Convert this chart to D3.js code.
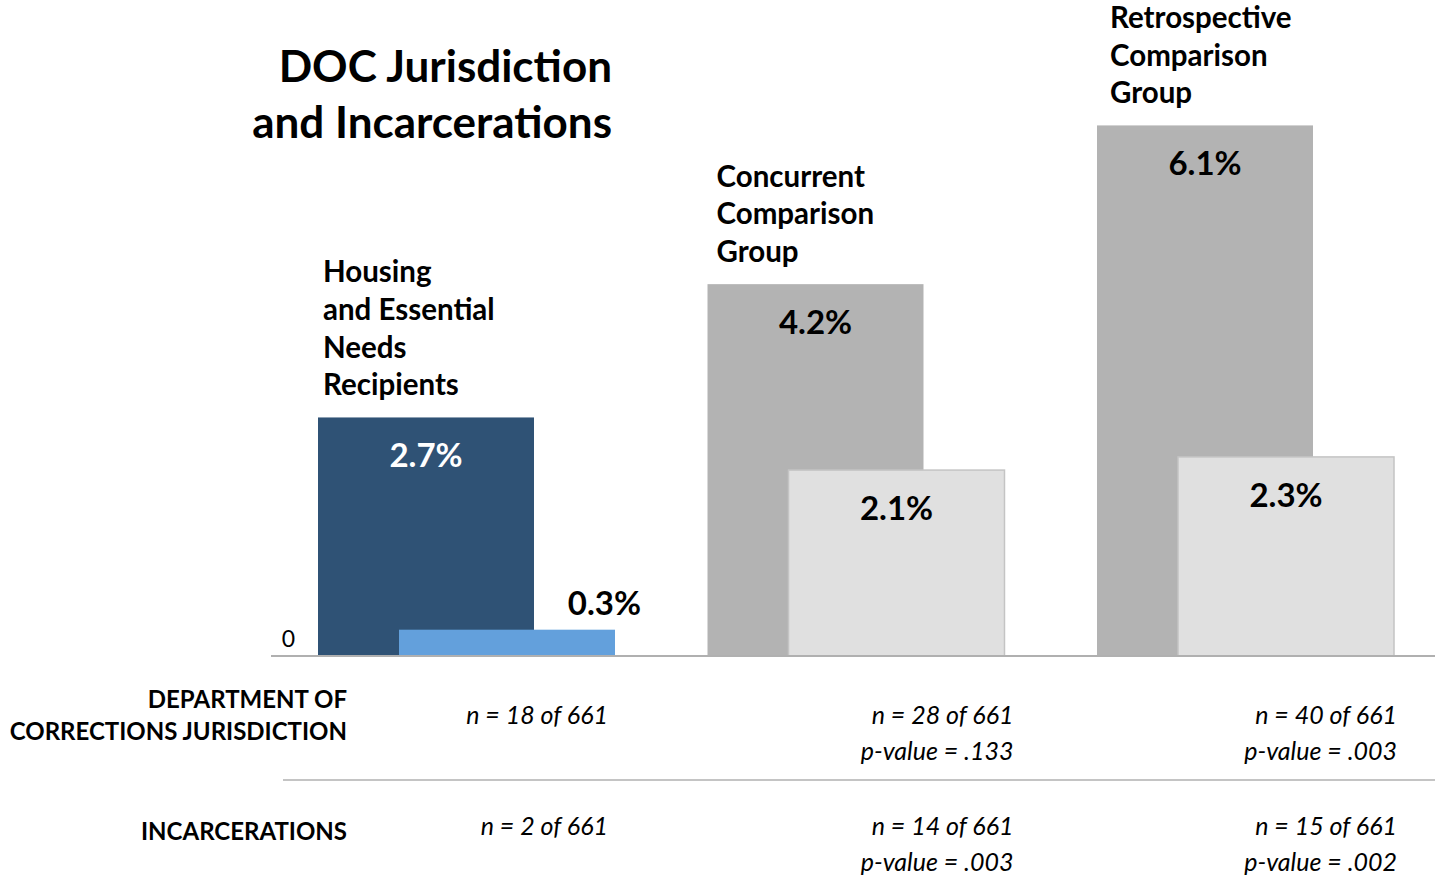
<!DOCTYPE html>
<html>
<head>
<meta charset="utf-8">
<script src="https://cdn.jsdelivr.net/npm/d3@7"></script>
<style>
  body { margin: 0; background: #fff; }
  svg { display: block; font-family: Lato, "Open Sans", sans-serif; }
</style>
</head>
<body>
<div id="chart"></div>
<script>
// groups along the x axis
const groups = ["Housing and Essential Needs Recipients", "Concurrent Comparison Group", "Retrospective Comparison Group"];
const groupLabelLines = [
  ["Housing", "and Essential", "Needs", "Recipients"],
  ["Concurrent", "Comparison", "Group"],
  ["Retrospective", "Comparison", "Group"]
];
// percent values
const docJurisdiction = [2.72, 4.24, 6.05];
const incarcerations = [0.30, 2.12, 2.27];
const valueLabels = [["2.7%", "4.2%", "6.1%"], ["0.3%", "2.1%", "2.3%"]];
// table below the chart
const rowLabels = [["DEPARTMENT OF", "CORRECTIONS JURISDICTION"], ["INCARCERATIONS"]];
const docCounts = [["n = 18 of 661"], ["n = 28 of 661", "p-value = .133"], ["n = 40 of 661", "p-value = .003"]];
const incCounts = [["n = 2 of 661"], ["n = 14 of 661", "p-value = .003"], ["n = 15 of 661", "p-value = .002"]];
const yTicks = [0];

const width = 1435, height = 877;
const baseline = 656;

const svg = d3.select("#chart").append("svg")
  .attr("width", width)
  .attr("height", height);

const x = d3.scaleBand()
  .domain(groups)
  .range([318, 1394])
  .paddingInner(0.2375)
  .paddingOuter(0);

const barW = x.bandwidth() * 216 / 297;
const shift = x.bandwidth() - barW;

const y = d3.scaleLinear()
  .domain([0, 7])
  .range([baseline, baseline - 7 * 87.7]);

const fills = [
  ["#2f5275", "#b3b3b3", "#b3b3b3"],
  ["#63a0dc", "#e0e0e0", "#e0e0e0"]
];

const series = [docJurisdiction, incarcerations];

// title
const title = svg.append("text")
  .attr("text-anchor", "end")
  .attr("font-weight", 700)
  .attr("font-size", 44)
  .attr("fill", "#000");
title.append("tspan").attr("x", 612).attr("y", 82).text("DOC Jurisdiction");
title.append("tspan").attr("x", 612).attr("y", 138).text("and Incarcerations");

// bars
series.forEach((vals, s) => {
  svg.append("g")
    .selectAll("rect")
    .data(vals)
    .join("rect")
    .attr("x", (d, i) => x(groups[i]) + s * shift)
    .attr("y", d => y(d))
    .attr("width", barW)
    .attr("height", d => y(0) - y(d))
    .attr("fill", (d, i) => fills[s][i])
    .attr("stroke", (d, i) => (s === 1 && i > 0) ? "#c4c4c4" : "none")
    .attr("stroke-width", 1.5);
});

// value labels
series.forEach((vals, s) => {
  svg.append("g")
    .selectAll("text")
    .data(vals)
    .join("text")
    .attr("text-anchor", (d, i) => (s === 1 && i === 0) ? "end" : "middle")
    .attr("x", (d, i) => (s === 1 && i === 0)
      ? x(groups[i]) + shift + barW + 26
      : x(groups[i]) + s * shift + barW / 2)
    .attr("y", (d, i) => (s === 1 && i === 0) ? y(d) - 15 : y(d) + 50)
    .attr("font-weight", 700)
    .attr("font-size", 33)
    .attr("fill", (d, i) => (s === 0 && i === 0) ? "#fff" : "#000")
    .text((d, i) => valueLabels[s][i]);
});

// group labels above the tall bars
groups.forEach((g, i) => {
  const lines = groupLabelLines[i];
  const top = y(docJurisdiction[i]) - 22 - (lines.length - 1) * 37.7;
  const t = svg.append("text")
    .attr("font-weight", 700)
    .attr("font-size", 29.5)
    .attr("fill", "#000");
  lines.forEach((ln, k) => {
    t.append("tspan")
      .attr("x", x(g) + 5 + i * 4)
      .attr("y", top + k * 37.7)
      .text(ln);
  });
});

// baseline + zero tick
svg.append("line")
  .attr("x1", 271).attr("x2", width)
  .attr("y1", y(0)).attr("y2", y(0))
  .attr("stroke", "#b0b0b0")
  .attr("stroke-width", 2);

svg.append("g")
  .selectAll("text")
  .data(yTicks)
  .join("text")
  .attr("x", 295)
  .attr("y", d => y(d) - 9)
  .attr("text-anchor", "end")
  .attr("font-size", 23)
  .attr("fill", "#000")
  .text(d => d);

// table separator
svg.append("line")
  .attr("x1", 283).attr("x2", width)
  .attr("y1", 780).attr("y2", 780)
  .attr("stroke", "#c4c4c4")
  .attr("stroke-width", 2);

// row labels
const rowTops = [708, 840];
rowLabels.forEach((lines, r) => {
  const t = svg.append("text")
    .attr("text-anchor", "end")
    .attr("font-weight", 700)
    .attr("font-size", 24)
    .attr("fill", "#000");
  lines.forEach((ln, k) => {
    t.append("tspan").attr("x", 347).attr("y", rowTops[r] + k * 32).text(ln);
  });
});

// counts / p-values
const colOffsets = [-7, 9, 3];
[docCounts, incCounts].forEach((rows, r) => {
  rows.forEach((lines, i) => {
    const t = svg.append("text")
      .attr("text-anchor", "end")
      .attr("font-style", "italic")
      .attr("font-size", 25)
      .attr("fill", "#000");
    lines.forEach((ln, k) => {
      t.append("tspan")
        .attr("x", x(groups[i]) + x.bandwidth() + colOffsets[i])
        .attr("y", [724, 835][r] + k * 36)
        .text(ln);
    });
  });
});
</script>
</body>
</html>
